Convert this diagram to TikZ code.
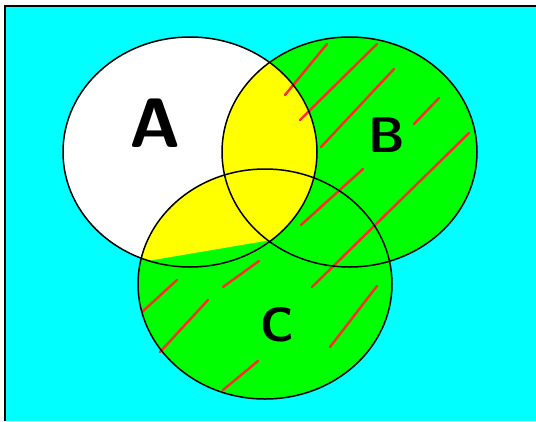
\documentclass[tikz,border=0pt]{standalone}
\usetikzlibrary{positioning}
\definecolor{vennaqua}{HTML}{00FFFF}
\definecolor{venngreen}{HTML}{00FF00}
\definecolor{vennyellow}{HTML}{FFFF00}
\definecolor{hatchred}{HTML}{FF2A2A}
\newcommand\vennA{(cA) ellipse [x radius=127pt, y radius=115pt]}
\newcommand\vennB{(cB) ellipse [x radius=127.5pt, y radius=115pt]}
\newcommand\vennC{(cC) ellipse [x radius=127pt, y radius=115pt]}

\begin{document}
\begin{tikzpicture}[x=1pt, y=-1pt,
    hatch/.style={hatchred, line width=2.4pt, line cap=round},
    setline/.style={black, line width=1.5pt},
    setlabel/.style={font=\fontsize{#1}{#1}\selectfont\sffamily\bfseries}]
  \useasboundingbox (0,0) rectangle (536,421);
  % Fondo (universo)
  \fill[vennaqua] (5,6) rectangle (536,421);
  \draw[line width=1.6pt] (5,421) -- (5,6) -- (536,6);
  % Centros de los conjuntos
  \coordinate (cA) at (190,152);
  \coordinate (cB) at (349.5,152);
  \coordinate (cC) at (265,284);
  % Relleno: A en blanco, B y C en verde
  \fill[white] \vennA;
  \fill[venngreen] \vennB;
  \fill[venngreen] \vennC;
  % Interseccion de A con B o C en amarillo
  \begin{scope}
    \clip \vennA;
    \clip (0,0) -- (536,0) -- (536,195) -- (0,286) -- cycle;
    \fill[vennyellow] \vennB;
    \fill[vennyellow] \vennC;
  \end{scope}
  % Rayado rojo
  \draw[hatch] (285,95) -- (327,44);
  \draw[hatch] (300,120) -- (377,44);
  \draw[hatch] (321,147) -- (394,69);
  \draw[hatch] (414,124) -- (439,98);
  \draw[hatch] (312,287) -- (469,133);
  \draw[hatch] (301,225) -- (363,169);
  \draw[hatch] (330,347) -- (377,286);
  \draw[hatch] (142,312) -- (177,280);
  \draw[hatch] (160,352) -- (208,300);
  \draw[hatch] (223,287) -- (259,261);
  \draw[hatch] (223,390) -- (258,361);
  % Contornos
  \draw[setline] \vennA;
  \draw[setline] \vennB;
  \draw[setline] \vennC;
  % Etiquetas
  \node[setlabel=70] (labA) at (155,123) {A};
  \node[setlabel=50] (labB) at (387,135) {B};
  \node[setlabel=48] (labC) at (277,325) {C};
\end{tikzpicture}
\end{document}
